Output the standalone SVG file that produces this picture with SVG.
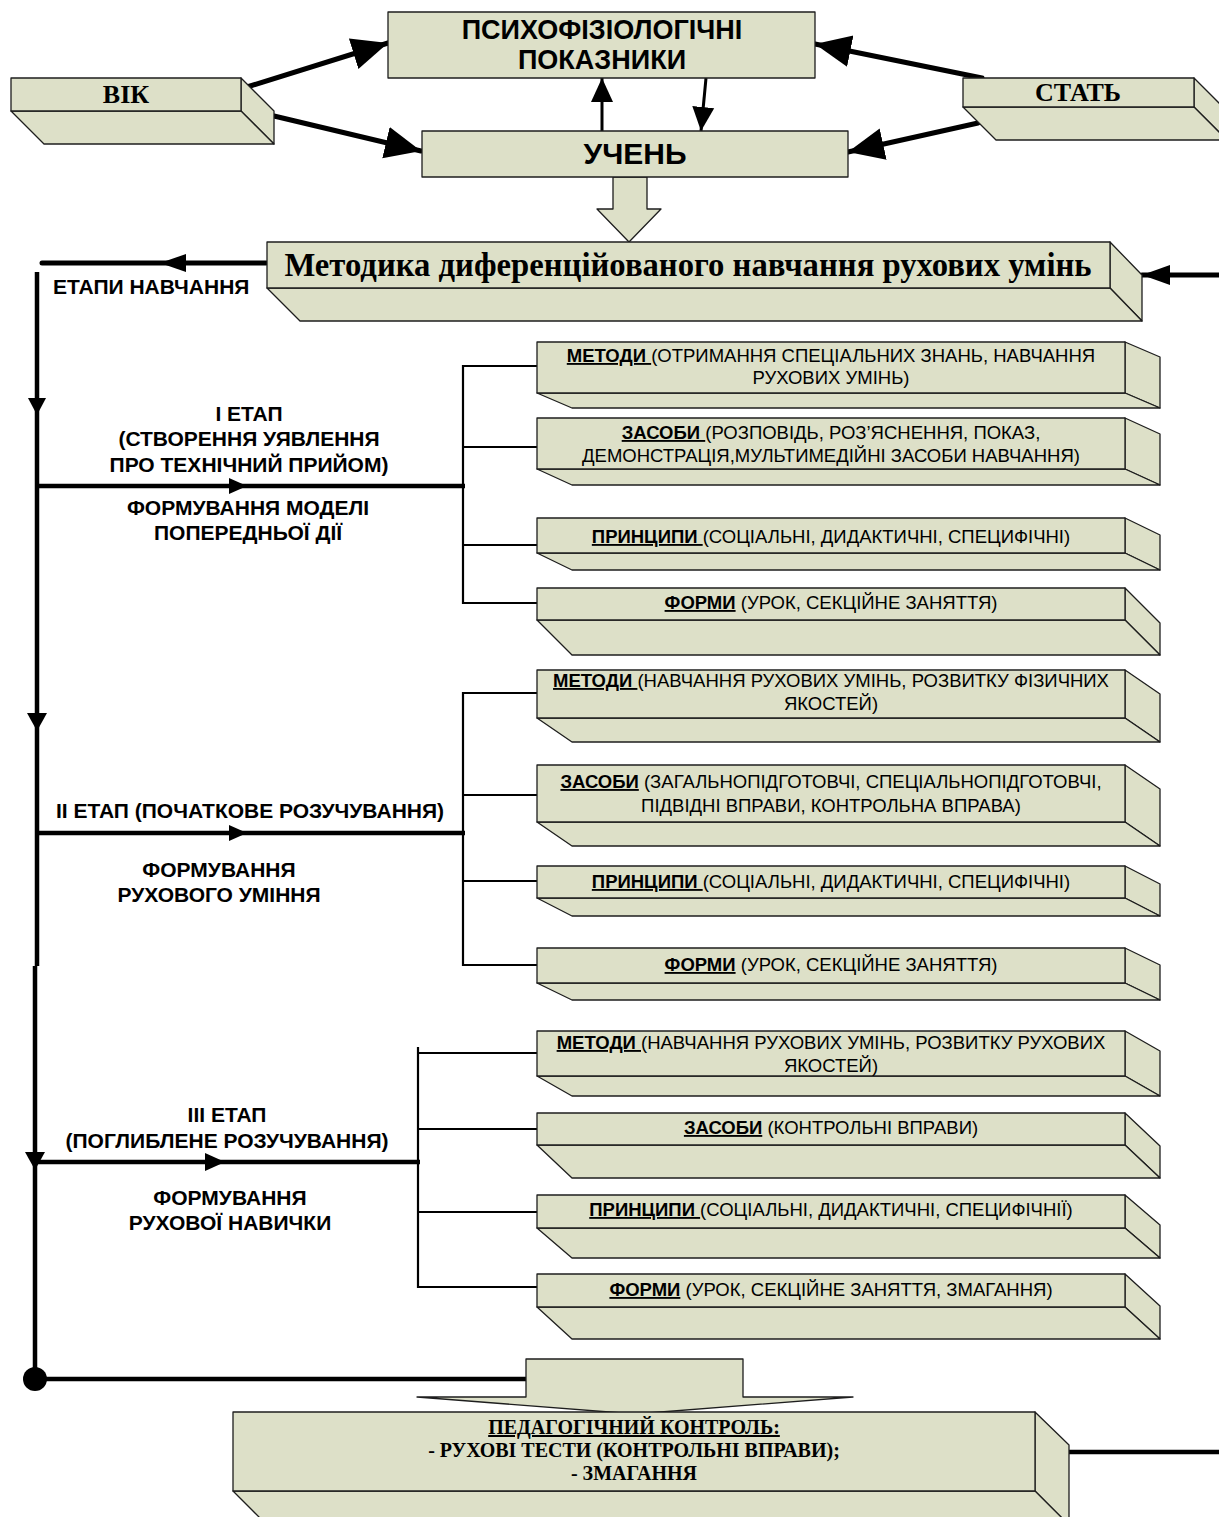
<svg xmlns="http://www.w3.org/2000/svg" width="1219" height="1517" viewBox="0 0 1219 1517">
  <defs>
    <style>
      .face { fill: #dde0c8; stroke: #1e1e1e; stroke-width: 1.3; stroke-linejoin: round; }
      .sans { font-family: "Liberation Sans", Arial, sans-serif; fill: #000; }
      .serif { font-family: "Liberation Serif", "Times New Roman", serif; fill: #000; font-weight: bold; }
      .b { font-weight: bold; }
      .u { text-decoration: underline; }
      .stage { font-family: "Liberation Sans", Arial, sans-serif; font-weight: bold; font-size: 21px; text-anchor: middle; }
      .item { font-family: "Liberation Sans", Arial, sans-serif; font-size: 18.5px; text-anchor: middle; }
      .thick { stroke: #000; stroke-width: 5; fill: none; stroke-linecap: round; }
      .trunk { stroke: #000; stroke-width: 4.5; fill: none; }
      .thin { stroke: #000; stroke-width: 2.2; fill: none; }
      .mid { stroke: #000; stroke-width: 3; fill: none; }
      .head { fill: #000; stroke: none; }
    </style>
    <marker id="bigHead" markerUnits="userSpaceOnUse" markerWidth="40" markerHeight="34" refX="36" refY="16" orient="auto">
      <path d="M0,0 L36,16 L0,32 Z" fill="#000"/>
    </marker>
    <marker id="smallHead" markerUnits="userSpaceOnUse" markerWidth="26" markerHeight="26" refX="24" refY="12" orient="auto">
      <path d="M0,1 L24,12 L0,23 Z" fill="#000"/>
    </marker>
    <marker id="sideHead" markerUnits="userSpaceOnUse" markerWidth="30" markerHeight="22" refX="28" refY="10" orient="auto">
      <path d="M0,0 L28,10 L0,20 Z" fill="#000"/>
    </marker>
  </defs>

  <rect width="1219" height="1517" fill="#fff"/>

  <!-- connectors -->
  <g id="connectors">
    <!-- age / sex into the two upper boxes -->
    <line class="thick" x1="247" y1="87" x2="388" y2="43" marker-end="url(#bigHead)"/>
    <line class="thick" x1="274" y1="116" x2="421" y2="151" marker-end="url(#bigHead)"/>
    <line class="thick" x1="982" y1="78" x2="815" y2="44" marker-end="url(#bigHead)"/>
    <line class="thick" x1="978" y1="123" x2="848" y2="152" marker-end="url(#bigHead)"/>
    <!-- pupil <-> indicators -->
    <line class="mid" x1="602" y1="131" x2="602" y2="78" marker-end="url(#smallHead)"/>
    <line class="mid" x1="706" y1="78" x2="701" y2="131" marker-end="url(#smallHead)"/>

    <!-- hollow arrow from pupil to method -->
    <polygon class="face" points="613,177 647,177 647,209 661,209 629,242 597,209 613,209"/>

    <!-- feedback into the method box -->
    <line class="thick" x1="1219" y1="275" x2="1142" y2="275" stroke-linecap="butt" marker-end="url(#sideHead)"/>

    <!-- stages line -->
    <line class="thick" x1="266" y1="263" x2="42" y2="263"/>
    <polygon class="head" points="160,263 186,254 186,272"/>

    <!-- trunk -->
    <line class="trunk" x1="37" y1="272" x2="37" y2="966"/>
    <line class="trunk" x1="35" y1="966" x2="35" y2="1379"/>
    <polygon class="head" points="28,398 46,398 37,415"/>
    <polygon class="head" points="27,713 47,713 37,731"/>
    <polygon class="head" points="25,1152 45,1152 35,1170"/>

    <!-- stage branches -->
    <line class="trunk" x1="37" y1="486" x2="465" y2="486"/>
    <polygon class="head" points="247,486 229,478 229,494"/>
    <line class="trunk" x1="37" y1="833" x2="465" y2="833"/>
    <polygon class="head" points="247,833 229,825 229,841"/>
    <line class="trunk" x1="35" y1="1162" x2="420" y2="1162"/>
    <polygon class="head" points="225,1162 205,1153 205,1171"/>

    <!-- bracket, stage I -->
    <path class="thin" d="M537,366 H463 V603 H537 M463,447 H537 M463,545 H537"/>
    <!-- bracket, stage II -->
    <path class="thin" d="M537,693 H463 V965 H537 M463,795 H537 M463,881 H537"/>
    <!-- bracket, stage III -->
    <path class="thin" d="M418,1047 V1287 H537 M418,1053 H537 M418,1129 H537 M418,1212 H537"/>

    <!-- return to control -->
    <line class="trunk" x1="35" y1="1379" x2="527" y2="1379"/>
    <circle cx="35" cy="1379" r="12" fill="#000"/>
    <polygon class="face" points="526,1359 743,1359 743,1397 853,1397 635,1414 417,1397 526,1397"/>
    <line class="trunk" x1="1068" y1="1452" x2="1219" y2="1452"/>
  </g>

  <!-- top nodes -->
  <g id="node-indicators">
    <rect class="face" x="388" y="12" width="427" height="66"/>
    <text class="sans b" x="602" y="39" font-size="27" text-anchor="middle">ПСИХОФІЗІОЛОГІЧНІ</text>
    <text class="sans b" x="602" y="69" font-size="27" text-anchor="middle">ПОКАЗНИКИ</text>
  </g>

  <g id="node-pupil">
    <rect class="face" x="422" y="131" width="426" height="46"/>
    <text class="sans b" x="635" y="164" font-size="30" text-anchor="middle">УЧЕНЬ</text>
  </g>

  <g id="node-age">
    <polygon class="face" points="241,78 274,111 274,144 241,111"/>
    <polygon class="face" points="11,111 241,111 274,144 44,144"/>
    <rect class="face" x="11" y="78" width="230" height="33"/>
    <text class="serif" x="126" y="103" font-size="26" text-anchor="middle">ВІК</text>
  </g>

  <g id="node-sex">
    <polygon class="face" points="1194,78 1227,111 1227,140 1194,107"/>
    <polygon class="face" points="963,107 1194,107 1227,140 996,140"/>
    <rect class="face" x="963" y="78" width="231" height="29"/>
    <text class="serif" x="1078" y="101" font-size="26" text-anchor="middle">СТАТЬ</text>
  </g>

  <g id="node-method">
    <polygon class="face" points="1110,242 1142,275 1142,321 1110,288"/>
    <polygon class="face" points="267,288 1110,288 1142,321 300,321"/>
    <rect class="face" x="267" y="242" width="843" height="46"/>
    <text class="serif" x="688" y="276" font-size="32.7" text-anchor="middle">Методика диференційованого навчання рухових умінь</text>
  </g>

  <!-- stage labels -->
  <g id="label-stages">
    <text class="sans b" x="53" y="294" font-size="21">ЕТАПИ НАВЧАННЯ</text>
  </g>
  <g id="label-stage1">
    <text class="stage" x="249" y="421">І ЕТАП</text>
    <text class="stage" x="249" y="446">(СТВОРЕННЯ УЯВЛЕННЯ</text>
    <text class="stage" x="249" y="472">ПРО ТЕХНІЧНИЙ ПРИЙОМ)</text>
    <text class="stage" x="248" y="515">ФОРМУВАННЯ МОДЕЛІ</text>
    <text class="stage" x="248" y="540">ПОПЕРЕДНЬОЇ ДІЇ</text>
  </g>
  <g id="label-stage2">
    <text class="stage" x="250" y="818">ІІ ЕТАП (ПОЧАТКОВЕ РОЗУЧУВАННЯ)</text>
    <text class="stage" x="219" y="877">ФОРМУВАННЯ</text>
    <text class="stage" x="219" y="902">РУХОВОГО УМІННЯ</text>
  </g>
  <g id="label-stage3">
    <text class="stage" x="227" y="1122">ІІІ ЕТАП</text>
    <text class="stage" x="227" y="1148">(ПОГЛИБЛЕНЕ РОЗУЧУВАННЯ)</text>
    <text class="stage" x="230" y="1205">ФОРМУВАННЯ</text>
    <text class="stage" x="230" y="1230">РУХОВОЇ НАВИЧКИ</text>
  </g>

  <!-- stage I items -->
  <g id="s1-methods">
    <polygon class="face" points="1125,342 1160,357 1160,408 1125,393"/>
    <polygon class="face" points="537,393 1125,393 1160,408 572,408"/>
    <rect class="face" x="537" y="342" width="588" height="51"/>
    <text class="item" x="831" y="362"><tspan class="b u">МЕТОДИ </tspan>(ОТРИМАННЯ СПЕЦІАЛЬНИХ ЗНАНЬ, НАВЧАННЯ</text>
    <text class="item" x="831" y="384">РУХОВИХ УМІНЬ)</text>
  </g>
  <g id="s1-means">
    <polygon class="face" points="1125,418 1160,434 1160,485 1125,469"/>
    <polygon class="face" points="537,469 1125,469 1160,485 572,485"/>
    <rect class="face" x="537" y="418" width="588" height="51"/>
    <text class="item" x="831" y="439"><tspan class="b u">ЗАСОБИ </tspan>(РОЗПОВІДЬ, РОЗ’ЯСНЕННЯ, ПОКАЗ,</text>
    <text class="item" x="831" y="462">ДЕМОНСТРАЦІЯ,МУЛЬТИМЕДІЙНІ ЗАСОБИ НАВЧАННЯ)</text>
  </g>
  <g id="s1-principles">
    <polygon class="face" points="1125,518 1160,535 1160,570 1125,553"/>
    <polygon class="face" points="537,553 1125,553 1160,570 572,570"/>
    <rect class="face" x="537" y="518" width="588" height="35"/>
    <text class="item" x="831" y="543"><tspan class="b u">ПРИНЦИПИ </tspan>(СОЦІАЛЬНІ, ДИДАКТИЧНІ, СПЕЦИФІЧНІ)</text>
  </g>
  <g id="s1-forms">
    <polygon class="face" points="1125,588 1160,623 1160,655 1125,620"/>
    <polygon class="face" points="537,620 1125,620 1160,655 572,655"/>
    <rect class="face" x="537" y="588" width="588" height="32"/>
    <text class="item" x="831" y="609"><tspan class="b u">ФОРМИ</tspan> (УРОК, СЕКЦІЙНЕ ЗАНЯТТЯ)</text>
  </g>

  <!-- stage II items -->
  <g id="s2-methods">
    <polygon class="face" points="1125,670 1160,694 1160,742 1125,718"/>
    <polygon class="face" points="537,718 1125,718 1160,742 572,742"/>
    <rect class="face" x="537" y="670" width="588" height="48"/>
    <text class="item" x="831" y="687"><tspan class="b u">МЕТОДИ </tspan>(НАВЧАННЯ РУХОВИХ УМІНЬ, РОЗВИТКУ ФІЗИЧНИХ</text>
    <text class="item" x="831" y="710">ЯКОСТЕЙ)</text>
  </g>
  <g id="s2-means">
    <polygon class="face" points="1125,765 1160,789 1160,846 1125,822"/>
    <polygon class="face" points="537,822 1125,822 1160,846 572,846"/>
    <rect class="face" x="537" y="765" width="588" height="57"/>
    <text class="item" x="831" y="788"><tspan class="b u">ЗАСОБИ</tspan> (ЗАГАЛЬНОПІДГОТОВЧІ, СПЕЦІАЛЬНОПІДГОТОВЧІ,</text>
    <text class="item" x="831" y="812">ПІДВІДНІ ВПРАВИ, КОНТРОЛЬНА ВПРАВА)</text>
  </g>
  <g id="s2-principles">
    <polygon class="face" points="1125,866 1160,884 1160,916 1125,898"/>
    <polygon class="face" points="537,898 1125,898 1160,916 572,916"/>
    <rect class="face" x="537" y="866" width="588" height="32"/>
    <text class="item" x="831" y="888"><tspan class="b u">ПРИНЦИПИ </tspan>(СОЦІАЛЬНІ, ДИДАКТИЧНІ, СПЕЦИФІЧНІ)</text>
  </g>
  <g id="s2-forms">
    <polygon class="face" points="1125,948 1160,965 1160,1000 1125,983"/>
    <polygon class="face" points="537,983 1125,983 1160,1000 572,1000"/>
    <rect class="face" x="537" y="948" width="588" height="35"/>
    <text class="item" x="831" y="971"><tspan class="b u">ФОРМИ</tspan> (УРОК, СЕКЦІЙНЕ ЗАНЯТТЯ)</text>
  </g>

  <!-- stage III items -->
  <g id="s3-methods">
    <polygon class="face" points="1125,1031 1160,1051 1160,1096 1125,1076"/>
    <polygon class="face" points="537,1076 1125,1076 1160,1096 572,1096"/>
    <rect class="face" x="537" y="1031" width="588" height="45"/>
    <text class="item" x="831" y="1049"><tspan class="b u">МЕТОДИ </tspan>(НАВЧАННЯ РУХОВИХ УМІНЬ, РОЗВИТКУ РУХОВИХ</text>
    <text class="item" x="831" y="1072">ЯКОСТЕЙ)</text>
  </g>
  <g id="s3-means">
    <polygon class="face" points="1125,1113 1160,1146 1160,1178 1125,1145"/>
    <polygon class="face" points="537,1145 1125,1145 1160,1178 572,1178"/>
    <rect class="face" x="537" y="1113" width="588" height="32"/>
    <text class="item" x="831" y="1134"><tspan class="b u">ЗАСОБИ</tspan> (КОНТРОЛЬНІ ВПРАВИ)</text>
  </g>
  <g id="s3-principles">
    <polygon class="face" points="1125,1195 1160,1225 1160,1258 1125,1228"/>
    <polygon class="face" points="537,1228 1125,1228 1160,1258 572,1258"/>
    <rect class="face" x="537" y="1195" width="588" height="33"/>
    <text class="item" x="831" y="1216"><tspan class="b u">ПРИНЦИПИ </tspan>(СОЦІАЛЬНІ, ДИДАКТИЧНІ, СПЕЦИФІЧНІЇ)</text>
  </g>
  <g id="s3-forms">
    <polygon class="face" points="1125,1274 1160,1306 1160,1339 1125,1307"/>
    <polygon class="face" points="537,1307 1125,1307 1160,1339 572,1339"/>
    <rect class="face" x="537" y="1274" width="588" height="33"/>
    <text class="item" x="831" y="1296"><tspan class="b u">ФОРМИ</tspan> (УРОК, СЕКЦІЙНЕ ЗАНЯТТЯ, ЗМАГАННЯ)</text>
  </g>

  <!-- pedagogical control -->
  <g id="node-control">
    <polygon class="face" points="1035,1412 1069,1445 1069,1525 1035,1491"/>
    <polygon class="face" points="233,1491 1035,1491 1069,1525 267,1525"/>
    <rect class="face" x="233" y="1412" width="802" height="79"/>
    <text class="serif u" x="634" y="1434" font-size="20" text-anchor="middle">ПЕДАГОГІЧНИЙ КОНТРОЛЬ:</text>
    <text class="serif" x="634" y="1457" font-size="20" text-anchor="middle">- РУХОВІ ТЕСТИ (КОНТРОЛЬНІ ВПРАВИ);</text>
    <text class="serif" x="634" y="1480" font-size="20" text-anchor="middle">- ЗМАГАННЯ</text>
  </g>
</svg>
